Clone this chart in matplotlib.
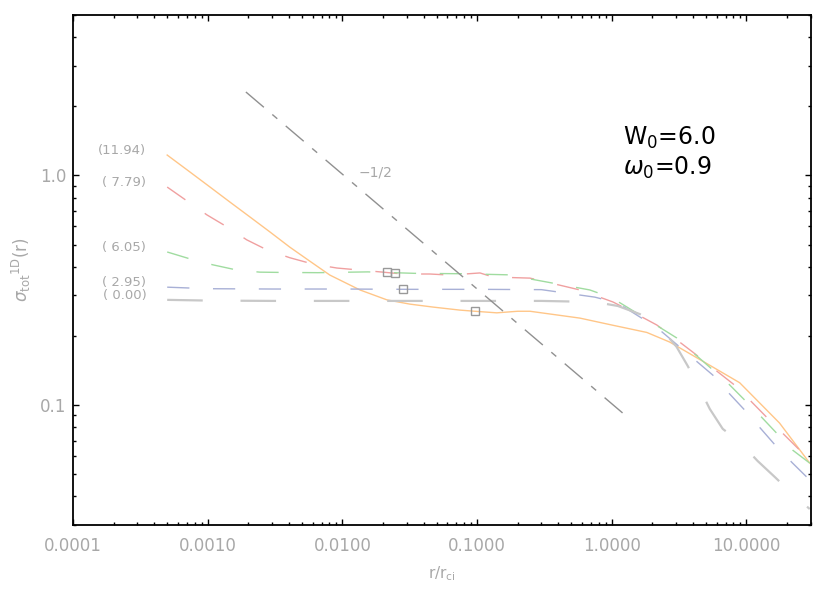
import numpy as np
import matplotlib
matplotlib.use("Agg")
import matplotlib.pyplot as plt
from matplotlib.ticker import FixedLocator, FixedFormatter, LogLocator, NullFormatter, FormatStrFormatter

# velocity dispersion profiles, labelled by the value in brackets
labels = ["(11.94)", "( 7.79)", "( 6.05)", "( 2.95)", "( 0.00)"]

r_orange = [5e-4, 7.38e-4, 1.04e-3, 1.46e-3, 2.06e-3, 2.9e-3, 4.07e-3, 5.7e-3, 8.07e-3,
            0.0135, 0.0214, 0.0317, 0.047, 0.0745, 0.0962, 0.14, 0.2, 0.247, 0.58, 1.0,
            1.82, 2.69, 5.33, 8.9, 17.6, 29.5]
s_orange = [1.227, 1.035, 0.890, 0.766, 0.659, 0.567, 0.487, 0.424, 0.368,
            0.317, 0.287, 0.275, 0.267, 0.259, 0.256, 0.252, 0.256, 0.256, 0.239, 0.223,
            0.207, 0.188, 0.149, 0.125, 0.0834, 0.0558]

r_red = [5e-4, 7.0e-4, 9.87e-4, 1.39e-3, 1.95e-3, 2.75e-3, 4.07e-3, 6.04e-3, 9.1e-3,
         0.0135, 0.020, 0.0281, 0.0446, 0.0628, 0.105, 0.131, 0.247, 0.58, 1.02,
         1.43, 2.16, 2.84, 3.99, 5.62, 8.47, 14.1, 22.0, 29.5]
s_red = [0.89, 0.775, 0.673, 0.597, 0.524, 0.474, 0.438, 0.411, 0.395,
         0.387, 0.379, 0.372, 0.372, 0.368, 0.376, 0.361, 0.357, 0.317, 0.281,
         0.254, 0.223, 0.198, 0.170, 0.145, 0.120, 0.0885, 0.0682, 0.0575]

r_green = [5e-4, 7.38e-4, 1.09e-3, 1.65e-3, 2.44e-3, 3.44e-3, 6.57e-3, 0.01545,
           0.0345, 0.077, 0.169, 0.687, 1.0, 1.61, 3.03, 3.79, 7.13, 12.5, 22.0, 29.5]
s_green = [0.464, 0.433, 0.408, 0.387, 0.379, 0.378, 0.377, 0.380,
           0.3745, 0.373, 0.369, 0.317, 0.293, 0.247, 0.196, 0.174, 0.126, 0.0904, 0.0636, 0.0558]

r_blue = [5e-4, 1e-3, 3e-3, 0.01, 0.03, 0.1, 0.3, 0.748, 1.108, 2.19, 3.19,
          5.62, 7.26, 9.7, 12.5, 16.8, 22.0, 29.5]
s_blue = [0.326, 0.321, 0.320, 0.320, 0.319, 0.319, 0.318, 0.295, 0.278, 0.216, 0.179,
          0.135, 0.114, 0.095, 0.080, 0.0656, 0.0558, 0.0471]

r_gray = [5e-4, 1e-3, 3e-3, 0.01, 0.03, 0.1, 0.3, 0.748, 1.108, 1.61, 2.27, 3.03,
          3.66, 4.50, 5.34, 6.66, 8.91, 12.1, 16.2, 22.0, 29.5]
s_gray = [0.287, 0.285, 0.284, 0.284, 0.284, 0.284, 0.284, 0.281, 0.270, 0.249, 0.219, 0.179,
          0.148, 0.1175, 0.0961, 0.0787, 0.069, 0.057, 0.0486, 0.0409, 0.0352]

# core radius markers
r_core = [0.0214, 0.0245, 0.0281, 0.0962]
s_core = [0.379, 0.376, 0.320, 0.256]

# reference power law, slope -1/2
r_slope = [0.00192, 1.36]
s_slope = [2.31, 2.31 * (1.36 / 0.00192) ** -0.5]

fig = plt.figure(figsize=(8.3, 5.93), dpi=100)
ax = fig.add_axes([0.088, 0.1147, 0.8888, 0.860])

lbl = "#a8a8a8"
dash = (0, (16, 17))
curves = [
    (r_orange, s_orange, "#ffc688", "-", 1.0),
    (r_red, s_red, "#f0a0a0", dash, 1.0),
    (r_green, s_green, "#a0dca0", dash, 1.0),
    (r_blue, s_blue, "#a8b0d6", dash, 1.0),
    (r_gray, s_gray, "#c8c8c8", dash, 1.6),
]
for (r, s, c, ls, lw), lab in zip(curves, labels):
    ax.plot(r, s, color=c, linestyle=ls, lw=lw)
    ax.annotate(lab, xy=(r[0], s[0]), xytext=(-15, 3.5), textcoords="offset points",
                ha="right", va="center", fontsize=9.5, color=lbl)

ax.plot(r_slope, s_slope, color="#909090", lw=1.0, linestyle=(0, (17, 8, 4.7, 8)))
ax.text(0.0177, 1.035, "\u22121/2", fontsize=10, color=lbl, ha="center", va="center")

ax.plot(r_core, s_core, linestyle="none", marker="s", ms=6, mfc="none",
        mec="#999999", mew=1.0)

ax.text(0.745, 0.745, "W$_0$=6.0", transform=ax.transAxes, fontsize=17, va="baseline")
ax.text(0.745, 0.686, r"$\omega_0$=0.9", transform=ax.transAxes, fontsize=17, va="baseline")

ax.set_xscale("log")
ax.set_yscale("log")
ax.set_xlim(1e-4, 30)
ax.set_ylim(0.03, 5)

ax.xaxis.set_major_formatter(FormatStrFormatter("%.4f"))
ax.xaxis.set_minor_locator(LogLocator(base=10, subs=np.arange(2, 10), numticks=20))
ax.xaxis.set_minor_formatter(NullFormatter())
ax.yaxis.set_major_locator(FixedLocator([0.1, 1.0]))
ax.yaxis.set_major_formatter(FixedFormatter(["0.1", "1.0"]))
ax.yaxis.set_minor_locator(LogLocator(base=10, subs=np.arange(2, 10), numticks=20))
ax.yaxis.set_minor_formatter(NullFormatter())

ax.tick_params(which="both", direction="in", top=True, right=True, labelcolor=lbl,
               labelsize=12, width=1.0)
ax.tick_params(which="major", length=4.5)
ax.tick_params(which="minor", length=2.2)
ax.tick_params(axis="x", pad=9)
ax.tick_params(axis="y", pad=5)
for sp in ax.spines.values():
    sp.set_linewidth(1.3)

ax.set_xlabel(r"r/r$_{\rm ci}$", color=lbl, fontsize=11, labelpad=6)
ax.set_ylabel(r"$\sigma_{\rm tot}{}^{\rm 1D}$(r)", color=lbl, fontsize=12, labelpad=5)

fig.savefig("out.png", dpi=100)
